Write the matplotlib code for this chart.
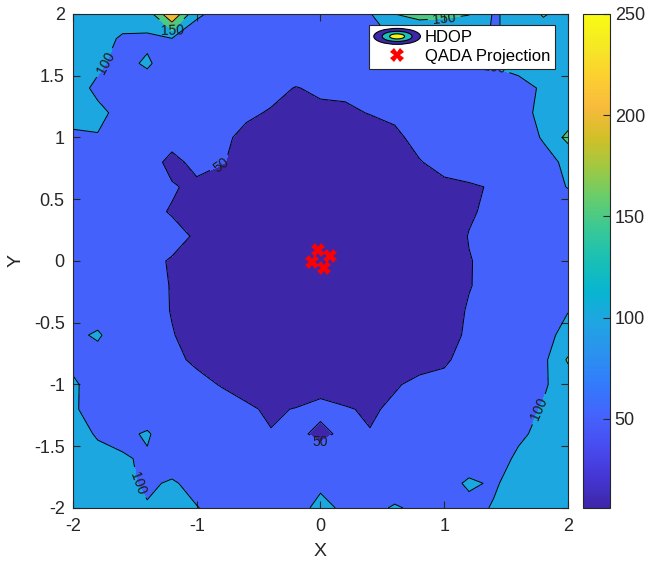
import numpy as np
import matplotlib
matplotlib.use('Agg')
import matplotlib.pyplot as plt
from matplotlib.colors import LinearSegmentedColormap, Normalize
from matplotlib.cm import ScalarMappable
from matplotlib.legend_handler import HandlerBase
from matplotlib.patches import Ellipse
from matplotlib.lines import Line2D

# HDOP surface, rows from y = 2 (top) down to y = -2
x_grid = [-2.0, -1.8, -1.6, -1.4, -1.2, -1.0, -0.8, -0.6, -0.4, -0.2, 0.0,
          0.2, 0.4, 0.6, 0.8, 1.0, 1.2, 1.4, 1.6, 1.8, 2.0]
y_grid = [2.0, 1.8, 1.6, 1.4, 1.2, 1.0, 0.8, 0.6, 0.4, 0.2, 0.0,
          -0.2, -0.4, -0.6, -0.8, -1.0, -1.2, -1.4, -1.6, -1.8, -2.0]
hdop = [
    [128, 122, 116, 120, 250, 104, 92, 88, 86, 85, 86, 90, 97, 150, 162, 158, 152, 96, 112, 155, 130],
    [124, 112, 96, 94, 98, 86, 82, 78, 76, 75, 74, 76, 80, 104, 112, 115, 108, 98, 106, 118, 120],
    [118, 104, 92, 104, 84, 78, 73, 70, 67, 66, 65, 66, 68, 82, 92, 104, 106, 103, 108, 110, 116],
    [108, 96, 90, 86, 76, 70, 65, 60, 57, 49, 54, 55, 57, 60, 66, 72, 80, 84, 92, 103, 110],
    [108, 104, 95, 76, 69, 64, 58, 54, 48, 46, 45, 46, 51, 54, 59, 64, 70, 78, 92, 106, 112],
    [96, 99, 80, 70, 64, 55, 55, 44, 38, 35, 34, 35, 38, 46, 56, 64, 70, 78, 88, 102, 165],
    [92, 82, 75, 66, 40, 60, 52, 40, 29, 27, 26, 27, 32, 38, 49, 56, 64, 72, 80, 92, 105],
    [89, 78, 70, 62, 53, 43, 34, 27, 22, 20, 19, 20, 22, 27, 35, 46, 47, 52, 72, 90, 101],
    [86, 76, 67, 57, 48, 38, 29, 22, 17, 15, 14, 15, 17, 22, 29, 38, 47, 56, 66, 76, 86],
    [85, 75, 66, 57, 58, 47, 27, 20, 15, 12, 11, 12, 15, 20, 27, 36, 51, 58, 65, 75, 85],
    [84, 74, 65, 56, 48, 34, 26, 19, 14, 11, 10, 11, 14, 19, 26, 34, 49, 56, 65, 74, 84],
    [85, 75, 65, 57, 49, 38, 27, 20, 15, 12, 11, 12, 15, 20, 27, 37, 49, 57, 65, 76, 85],
    [86, 76, 67, 59, 49, 38, 29, 22, 17, 15, 14, 15, 17, 22, 29, 40, 52, 59, 67, 82, 99],
    [90, 106, 72, 60, 51, 43, 34, 27, 22, 20, 19, 20, 22, 27, 34, 43, 53, 62, 70, 90, 110],
    [93, 82, 73, 65, 54, 47, 41, 34, 29, 27, 26, 27, 29, 34, 42, 47, 58, 65, 73, 88, 156],
    [104, 88, 78, 70, 64, 55, 49, 43, 38, 35, 42, 37, 40, 48, 55, 56, 64, 72, 80, 95, 120],
    [103, 90, 84, 76, 69, 64, 58, 53, 47, 51, 56, 52, 47, 54, 58, 64, 69, 76, 86, 103, 112],
    [108, 98, 92, 104, 78, 72, 66, 62, 51, 56, 44, 56, 51, 62, 66, 70, 76, 83, 96, 106, 110],
    [115, 106, 103, 96, 86, 80, 76, 72, 68, 66, 62, 66, 70, 72, 74, 78, 86, 90, 104, 110, 114],
    [122, 112, 106, 96, 103, 92, 86, 80, 78, 80, 96, 88, 80, 84, 86, 90, 104, 97, 110, 116, 120],
    [128, 120, 112, 102, 110, 101, 92, 94, 90, 92, 106, 96, 92, 103, 94, 95, 92, 102, 112, 118, 124],
]

qada_x = [-0.02, 0.08, -0.07, 0.03]
qada_y = [0.09, 0.04, -0.01, -0.06]

levels = [50, 100, 150, 200]
c_min, c_max = 6, 250
x_ticks = [-2, -1, 0, 1, 2]
y_ticks = [-2, -1.5, -1, -0.5, 0, 0.5, 1, 1.5, 2]
y_tick_labels = ['-2', '-1.5', '-1', '-0.5', '0', '0.5', '1', '1.5', '2']
cbar_ticks = [50, 100, 150, 200, 250]

# parula-like colormap
parula = LinearSegmentedColormap.from_list('parula', [
    (0.2422, 0.1504, 0.6603), (0.2706, 0.2147, 0.8364), (0.2813, 0.3006, 0.9414),
    (0.2699, 0.3892, 0.9906), (0.1963, 0.4847, 0.9892), (0.1687, 0.5703, 0.9359),
    (0.1248, 0.6459, 0.8883), (0.0297, 0.7082, 0.8163), (0.0964, 0.7500, 0.7120),
    (0.2161, 0.7843, 0.5923), (0.3909, 0.8029, 0.4354), (0.6174, 0.7876, 0.2612),
    (0.8203, 0.7498, 0.1535), (0.9728, 0.7298, 0.2394), (0.9892, 0.8136, 0.1885),
    (0.9597, 0.9135, 0.1423), (0.9769, 0.9839, 0.0805)])

plt.rcParams['font.family'] = ['Liberation Sans', 'DejaVu Sans']
plt.rcParams['axes.unicode_minus'] = False
dark = '#262626'


class ContourIcon:
    pass


class ContourIconHandler(HandlerBase):
    def create_artists(self, legend, orig_handle, xdescent, ydescent,
                       width, height, fontsize, trans):
        cx = width / 2 - xdescent
        cy = height / 2 - ydescent
        out = []
        for scale, col in zip([1.0, 0.64, 0.32], [parula(0.0), parula(0.5), parula(0.97)]):
            e = Ellipse((cx, cy), width * scale, height * 1.25 * scale,
                        facecolor=col, edgecolor='k', lw=0.8, transform=trans)
            out.append(e)
        return out


fig = plt.figure(figsize=(6.47, 5.62), dpi=100)
ax = fig.add_axes([0.1128, 0.0961, 0.7651, 0.879])
cax = fig.add_axes([0.901, 0.0961, 0.0417, 0.879])

X, Y = np.meshgrid(x_grid, y_grid)
Z = np.array(hdop, dtype=float)
norm = Normalize(c_min, c_max)
fill_colors = [parula(norm(v)) for v in [c_min] + levels]
ax.contourf(X, Y, Z, levels=[0] + levels + [300], colors=fill_colors)
cs = ax.contour(X, Y, Z, levels=levels, colors='k', linewidths=0.7)
ax.clabel(cs, fmt='%d', fontsize=10, inline=True, colors='#1a1a1a')

ax.plot(qada_x, qada_y, linestyle='none', marker='X', markersize=10,
        color='red', markeredgewidth=0)

ax.set_xlim(-2, 2)
ax.set_ylim(-2, 2)
ax.set_xticks(x_ticks)
ax.set_yticks(y_ticks)
ax.set_yticklabels(y_tick_labels)
ax.tick_params(direction='in', length=5, top=True, right=True,
               labelsize=13, colors=dark, width=0.8)
ax.tick_params(axis='x', pad=7)
ax.tick_params(axis='y', pad=6)
for s in ax.spines.values():
    s.set_color(dark)
    s.set_linewidth(0.8)
ax.set_xlabel('X', fontsize=14, color=dark, labelpad=6)
ax.set_ylabel('Y', fontsize=14, color=dark, labelpad=7)

handles = [ContourIcon(),
           Line2D([], [], linestyle='none', marker='X', markersize=10,
                  color='red', markeredgewidth=0)]
leg = ax.legend(handles, ['HDOP', 'QADA Projection'],
                handler_map={ContourIcon: ContourIconHandler()},
                loc='upper right', bbox_to_anchor=(0.9737, 0.9777),
                borderaxespad=0, fontsize=12, fancybox=False, framealpha=1,
                edgecolor=dark, handlelength=2.8, handleheight=0.8,
                handletextpad=0.25, borderpad=0.3, labelspacing=0.2)
leg.get_frame().set_linewidth(0.8)

cb = fig.colorbar(ScalarMappable(norm=norm, cmap=parula), cax=cax)
cb.set_ticks(cbar_ticks)
cb.ax.tick_params(direction='in', length=5, labelsize=13, colors=dark, width=0.8)
cb.outline.set_edgecolor(dark)
cb.outline.set_linewidth(0.8)

fig.savefig('out.png', dpi=100)
